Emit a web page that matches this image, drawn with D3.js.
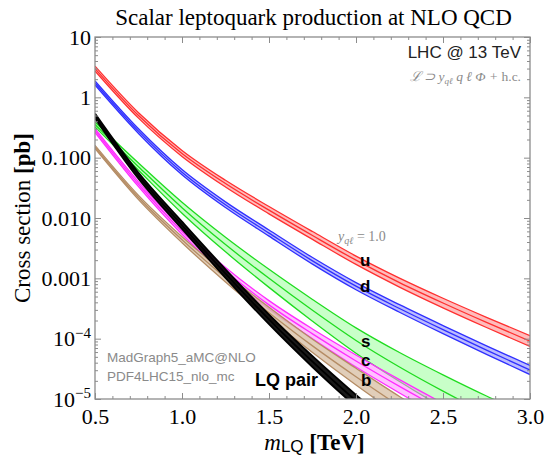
<!DOCTYPE html>
<html>
<head>
<meta charset="utf-8">
<script src="https://cdn.jsdelivr.net/npm/d3@7/dist/d3.min.js"></script>
<style>
  html, body { margin: 0; padding: 0; background: #ffffff; }
  svg { display: block; }
</style>
</head>
<body>
<svg id="chart" width="547" height="463"></svg>
<script>
// Leptoquark mass grid (TeV)
const massTeV = [0.5, 0.75, 1.0, 1.25, 1.5, 1.75, 2.0, 2.25, 2.5, 2.75, 3.0];

// Single production, up-quark initiated (pb): central value and scale band
const uCentral = [3.0, 0.50, 0.117, 0.0372, 0.0135, 5.13e-3, 2.0e-3, 8.5e-4, 3.9e-4, 1.86e-4, 9.1e-5];
const uUpper   = [3.29, 0.556, 0.132, 0.0422, 0.0155, 5.96e-3, 2.34e-3, 1.01e-3, 4.68e-4, 2.26e-4, 1.12e-4];
const uLower   = [2.74, 0.452, 0.105, 0.0327, 0.0117, 4.42e-3, 1.70e-3, 7.16e-4, 3.24e-4, 1.53e-4, 7.41e-5];

// Down-quark initiated
const dCentral = [1.73, 0.275, 0.0575, 0.0166, 5.62e-3, 1.95e-3, 7.41e-4, 3.16e-4, 1.41e-4, 6.46e-5, 3.02e-5];
const dUpper   = [1.87, 0.301, 0.0635, 0.0185, 6.32e-3, 2.21e-3, 8.49e-4, 3.66e-4, 1.65e-4, 7.60e-5, 3.59e-5];
const dLower   = [1.60, 0.252, 0.0521, 0.0149, 5.00e-3, 1.72e-3, 6.47e-4, 2.74e-4, 1.21e-4, 5.48e-5, 2.54e-5];

// Strange-quark initiated
const sCentral = [0.355, 0.0708, 0.0148, 3.63e-3, 1.0e-3, 2.95e-4, 9.33e-5, 3.39e-5, 1.35e-5, 5.75e-6, 2.63e-6];
const sUpper   = [0.389, 0.0813, 0.0182, 4.79e-3, 1.41e-3, 4.47e-4, 1.51e-4, 5.89e-5, 2.51e-5, 1.12e-5, 5.37e-6];
const sLower   = [0.324, 0.0617, 0.0120, 2.75e-3, 7.08e-4, 1.95e-4, 5.75e-5, 1.95e-5, 7.24e-6, 2.95e-6, 1.29e-6];

// Charm-quark initiated
const cCentral = [0.282, 0.0363, 6.03e-3, 1.32e-3, 3.63e-4, 1.20e-4, 4.27e-5, 1.62e-5, 6.46e-6, 2.69e-6, 1.15e-6];
const cUpper   = [0.302, 0.0398, 6.76e-3, 1.51e-3, 4.27e-4, 1.45e-4, 5.37e-5, 2.09e-5, 8.51e-6, 3.63e-6, 1.58e-6];
const cLower   = [0.263, 0.0331, 5.37e-3, 1.15e-3, 3.09e-4, 1.00e-4, 3.39e-5, 1.26e-5, 4.90e-6, 2.00e-6, 8.32e-7];

// Bottom-quark initiated
const bCentral = [0.151, 0.0219, 4.37e-3, 1.02e-3, 2.69e-4, 7.59e-5, 2.34e-5, 7.59e-6, 2.57e-6, 9.12e-7, 3.31e-7];
const bUpper   = [0.160, 0.0237, 4.90e-3, 1.20e-3, 3.31e-4, 9.77e-5, 3.24e-5, 1.10e-5, 3.98e-6, 1.48e-6, 5.62e-7];
const bLower   = [0.142, 0.0202, 3.89e-3, 8.71e-4, 2.19e-4, 5.89e-5, 1.70e-5, 5.25e-6, 1.66e-6, 5.62e-7, 1.95e-7];

// QCD pair production
const pairCentral = [0.490, 0.0501, 7.59e-3, 1.20e-3, 2.09e-4, 4.17e-5, 9.33e-6, 2.24e-6, 5.62e-7, 1.58e-7, 4.47e-8];
const pairUpper   = [0.537, 0.0562, 8.71e-3, 1.41e-3, 2.51e-4, 5.13e-5, 1.17e-5, 2.88e-6, 7.41e-7, 2.14e-7, 6.17e-8];
const pairLower   = [0.447, 0.0447, 6.61e-3, 1.02e-3, 1.74e-4, 3.39e-5, 7.41e-6, 1.74e-6, 4.27e-7, 1.17e-7, 3.24e-8];

// Axis ticks
const xTickValues = [0.5, 1.0, 1.5, 2.0, 2.5, 3.0];
const xTickLabels = ["0.5", "1.0", "1.5", "2.0", "2.5", "3.0"];
const yTickValues = [10, 1, 0.1, 0.01, 0.001, 1e-4, 1e-5];
const yTickLabels = ["10", "1", "0.100", "0.010", "0.001", "10^\u22124", "10^\u22125"];

// ---------------------------------------------------------------------
const W = 547, H = 463;
const margin = { left: 95, right: 17, top: 37, bottom: 64 };
const plotW = W - margin.left - margin.right;
const plotH = H - margin.top - margin.bottom;

const svg = d3.select("#chart");
const serif = "'Liberation Serif', 'Times New Roman', serif";
const sans = "'Liberation Sans', Arial, sans-serif";

const x = d3.scaleLinear().domain([0.5, 3.0]).range([margin.left, margin.left + plotW]);
const y = d3.scaleLog().domain([1e-5, 10]).range([margin.top + plotH, margin.top]);

svg.append("defs").append("clipPath").attr("id", "plot-clip")
  .append("rect")
  .attr("x", margin.left).attr("y", margin.top)
  .attr("width", plotW).attr("height", plotH);

const channels = [
  { key: "s",    lower: sLower,    central: sCentral,    upper: sUpper,    stroke: "#1fdc1f", fill: "#c8ffc8", fillOpacity: 1.0,  width: 1.3 },
  { key: "c",    lower: cLower,    central: cCentral,    upper: cUpper,    stroke: "#ff2bff", fill: "#ff8cff", fillOpacity: 0.55, width: 1.3 },
  { key: "b",    lower: bLower,    central: bCentral,    upper: bUpper,    stroke: "#b48c64", fill: "#d9c2a8", fillOpacity: 0.8,  width: 1.3 },
  { key: "pair", lower: pairLower, central: pairCentral, upper: pairUpper, stroke: "#000000", fill: "#000000", fillOpacity: 0.9,  width: 1.8 },
  { key: "d",    lower: dLower,    central: dCentral,    upper: dUpper,    stroke: "#2f2fff", fill: "#6b6bff", fillOpacity: 0.45, width: 1.3 },
  { key: "u",    lower: uLower,    central: uCentral,    upper: uUpper,    stroke: "#ff2f2f", fill: "#ff6b6b", fillOpacity: 0.45, width: 1.3 }
];

const idx = d3.range(massTeV.length);
const plot = svg.append("g").attr("clip-path", "url(#plot-clip)");

channels.forEach(ch => {
  const g = plot.append("g").attr("class", "band band-" + ch.key);
  const area = d3.area()
    .x(i => x(massTeV[i]))
    .y0(i => y(ch.lower[i]))
    .y1(i => y(ch.upper[i]))
    .curve(d3.curveMonotoneX);
  g.append("path").datum(idx)
    .attr("d", area)
    .attr("fill", ch.fill)
    .attr("fill-opacity", ch.fillOpacity)
    .attr("stroke", "none");
  [ch.lower, ch.central, ch.upper].forEach(series => {
    const line = d3.line()
      .x(i => x(massTeV[i]))
      .y(i => y(series[i]))
      .curve(d3.curveMonotoneX);
    g.append("path").datum(idx)
      .attr("d", line)
      .attr("fill", "none")
      .attr("stroke", ch.stroke)
      .attr("stroke-width", ch.width);
  });
});

// ---------------------------------------------------------------------
// Frame with ticks on all four sides (ticks point inward)
const frameColor = "#8c8c8c";
const yBottom = margin.top + plotH, xRight = margin.left + plotW;

const xMinor = d3.range(5, 31).map(v => v / 10).filter(v => !xTickValues.some(t => Math.abs(t - v) < 1e-9));
const yMinor = [];
for (let e = -5; e < 1; e++) for (let k = 2; k <= 9; k++) yMinor.push(k * Math.pow(10, e));

function styleAxis(g) {
  g.select(".domain").remove();
  g.selectAll(".tick line").attr("stroke", frameColor).attr("stroke-width", 1);
}

// bottom
svg.append("g").attr("transform", `translate(0,${yBottom})`)
  .call(d3.axisBottom(x).tickValues(xMinor).tickSize(-3).tickFormat(""))
  .call(styleAxis);
const gxb = svg.append("g").attr("transform", `translate(0,${yBottom})`)
  .call(d3.axisBottom(x).tickValues(xTickValues).tickSize(-6).tickPadding(9)
    .tickFormat((d, i) => xTickLabels[i]))
  .call(styleAxis);
gxb.selectAll("text").attr("font-family", serif).attr("font-size", 22).attr("fill", "#000");

// top
svg.append("g").attr("transform", `translate(0,${margin.top})`)
  .call(d3.axisTop(x).tickValues(xMinor).tickSize(-3).tickFormat(""))
  .call(styleAxis);
svg.append("g").attr("transform", `translate(0,${margin.top})`)
  .call(d3.axisTop(x).tickValues(xTickValues).tickSize(-6).tickFormat(""))
  .call(styleAxis);

// left
svg.append("g").attr("transform", `translate(${margin.left},0)`)
  .call(d3.axisLeft(y).tickValues(yMinor).tickSize(-3).tickFormat(""))
  .call(styleAxis);
const gyl = svg.append("g").attr("transform", `translate(${margin.left},0)`)
  .call(d3.axisLeft(y).tickValues(yTickValues).tickSize(-6).tickPadding(4)
    .tickFormat((d, i) => yTickLabels[i]))
  .call(styleAxis);
gyl.selectAll("text")
  .attr("font-family", serif).attr("font-size", 22).attr("fill", "#000")
  .each(function () {
    const t = d3.select(this);
    const s = t.text();
    if (s.includes("^")) {
      const [base, sup] = s.split("^");
      t.text(null);
      t.append("tspan").text(base);
      t.append("tspan").attr("font-size", 15).attr("dy", "-0.55em").text(sup);
    }
  });

// right
svg.append("g").attr("transform", `translate(${xRight},0)`)
  .call(d3.axisRight(y).tickValues(yMinor).tickSize(-3).tickFormat(""))
  .call(styleAxis);
svg.append("g").attr("transform", `translate(${xRight},0)`)
  .call(d3.axisRight(y).tickValues(yTickValues).tickSize(-6).tickFormat(""))
  .call(styleAxis);

svg.append("rect")
  .attr("x", margin.left).attr("y", margin.top)
  .attr("width", plotW).attr("height", plotH)
  .attr("fill", "none").attr("stroke", frameColor).attr("stroke-width", 1.3);

// ---------------------------------------------------------------------
// Titles
svg.append("text")
  .attr("x", (margin.left + xRight) / 2 + 1).attr("y", 25)
  .attr("text-anchor", "middle")
  .attr("font-family", serif).attr("font-size", 23).attr("fill", "#000")
  .text("Scalar leptoquark production at NLO QCD");

const xt = svg.append("text")
  .attr("x", (margin.left + xRight) / 2 + 2).attr("y", 450)
  .attr("text-anchor", "middle")
  .attr("font-family", serif).attr("font-size", 23).attr("fill", "#000");
xt.append("tspan").attr("font-style", "italic").text("m");
xt.append("tspan").attr("font-family", sans).attr("font-size", 17).attr("dy", 2).text("LQ");
xt.append("tspan").attr("dy", -2).text(" ");
xt.append("tspan").attr("font-weight", "bold").text("[TeV]");

const yt = svg.append("text")
  .attr("transform", `translate(30,${(margin.top + yBottom) / 2}) rotate(-90)`)
  .attr("text-anchor", "middle")
  .attr("font-family", serif).attr("font-size", 23).attr("fill", "#000");
yt.append("tspan").text("Cross section ");
yt.append("tspan").attr("font-weight", "bold").text("[pb]");

// ---------------------------------------------------------------------
// Annotations
svg.append("text")
  .attr("x", xRight - 9).attr("y", 58)
  .attr("text-anchor", "end")
  .attr("font-family", sans).attr("font-size", 17).attr("fill", "#222")
  .text("LHC @ 13 TeV");

const lag = svg.append("text")
  .attr("x", xRight - 9).attr("y", 81)
  .attr("text-anchor", "end")
  .attr("font-family", serif).attr("font-size", 13.5).attr("fill", "#8a8a8a")
  .attr("font-style", "italic");
lag.append("tspan").text("\u2112 \u2283 y");
lag.append("tspan").attr("font-size", 9).attr("dy", 3).text("q\u2113");
lag.append("tspan").attr("dy", -3).text(" q \u2113 \u03A6 + ");
lag.append("tspan").attr("font-style", "normal").text("h.c.");

const yq = svg.append("text")
  .attr("x", 338).attr("y", 241)
  .attr("font-family", serif).attr("font-size", 14).attr("fill", "#8a8a8a");
yq.append("tspan").attr("font-style", "italic").text("y");
yq.append("tspan").attr("font-style", "italic").attr("font-size", 10).attr("dy", 3).text("q\u2113");
yq.append("tspan").attr("dy", -3).text(" = 1.0");

const channelLabels = [
  { text: "u", px: 360, py: 266 },
  { text: "d", px: 360, py: 292 },
  { text: "s", px: 361, py: 347 },
  { text: "c", px: 361, py: 366 },
  { text: "b", px: 361, py: 386 }
];
svg.selectAll("text.chlab").data(channelLabels).join("text")
  .attr("class", "chlab")
  .attr("x", d => d.px).attr("y", d => d.py)
  .attr("font-family", sans).attr("font-weight", "bold").attr("font-size", 17)
  .attr("fill", "#000")
  .text(d => d.text);

svg.append("text")
  .attr("x", 255).attr("y", 386)
  .attr("font-family", sans).attr("font-weight", "bold").attr("font-size", 18)
  .attr("fill", "#000")
  .text("LQ pair");

svg.append("text")
  .attr("x", 107).attr("y", 362)
  .attr("font-family", sans).attr("font-size", 13.5).attr("fill", "#8a8a8a")
  .text("MadGraph5_aMC@NLO");
svg.append("text")
  .attr("x", 107).attr("y", 381)
  .attr("font-family", sans).attr("font-size", 13.5).attr("fill", "#8a8a8a")
  .text("PDF4LHC15_nlo_mc");
</script>
</body>
</html>
